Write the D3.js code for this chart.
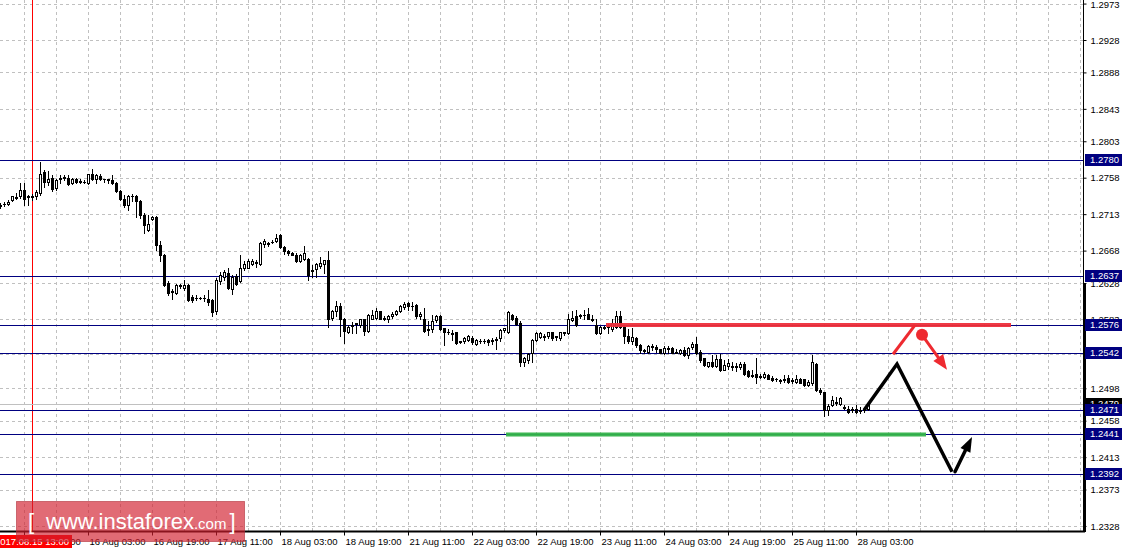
<!DOCTYPE html>
<html><head><meta charset="utf-8">
<script src="https://cdn.jsdelivr.net/npm/d3@7/dist/d3.min.js"></script>
<style>html,body{margin:0;padding:0;background:#fff;overflow:hidden}svg{display:block}</style>
</head><body><svg id="c" width="1124" height="552"></svg>
<script>
// ---- data (GBPUSD H1, bar index 0 = 15 Aug 05:00) ----
const opens = [1.2723,1.2726,1.2726,1.2730,1.2734,1.2735,1.2743,1.2734,1.2734,1.2735,1.2739,1.2765,1.2753,1.2758,1.2745,1.2757,1.2758,1.2758,1.2751,1.2757,1.2754,1.2753,1.2752,1.2763,1.2756,1.2760,1.2756,1.2756,1.2755,1.2752,1.2741,1.2732,1.2724,1.2735,1.2736,1.2729,1.2712,1.2693,1.2707,1.2709,1.2675,1.2663,1.2628,1.2617,1.2616,1.2624,1.2622,1.2626,1.2611,1.2609,1.2610,1.2609,1.2608,1.2607,1.2593,1.2630,1.2636,1.2640,1.2621,1.2637,1.2630,1.2646,1.2647,1.2652,1.2654,1.2651,1.2676,1.2677,1.2679,1.2680,1.2687,1.2672,1.2668,1.2665,1.2663,1.2655,1.2658,1.2658,1.2644,1.2645,1.2649,1.2651,1.2656,1.2585,1.2593,1.2599,1.2584,1.2568,1.2575,1.2577,1.2576,1.2583,1.2569,1.2584,1.2585,1.2593,1.2584,1.2583,1.2587,1.2590,1.2594,1.2598,1.2603,1.2600,1.2601,1.2587,1.2583,1.2570,1.2571,1.2582,1.2587,1.2572,1.2568,1.2566,1.2567,1.2556,1.2556,1.2558,1.2560,1.2553,1.2557,1.2556,1.2558,1.2557,1.2558,1.2560,1.2570,1.2568,1.2588,1.2585,1.2578,1.2531,1.2533,1.2541,1.2558,1.2561,1.2562,1.2563,1.2567,1.2561,1.2560,1.2567,1.2566,1.2582,1.2587,1.2588,1.2589,1.2590,1.2583,1.2576,1.2566,1.2574,1.2574,1.2571,1.2574,1.2587,1.2574,1.2563,1.2556,1.2560,1.2552,1.2545,1.2543,1.2550,1.2549,1.2546,1.2542,1.2548,1.2548,1.2543,1.2542,1.2545,1.2539,1.2549,1.2553,1.2543,1.2535,1.2526,1.2530,1.2525,1.2534,1.2521,1.2525,1.2525,1.2524,1.2524,1.2528,1.2519,1.2514,1.2516,1.2513,1.2512,1.2514,1.2511,1.2509,1.2508,1.2508,1.2511,1.2508,1.2506,1.2509,1.2509,1.2502,1.2504,1.2528,1.2496,1.2493,1.2471,1.2477,1.2481,1.2479,1.2475,1.2473,1.2471,1.2473,1.2471,1.2471,1.2473];
const highs = [1.2727,1.2728,1.2730,1.2736,1.2739,1.2751,1.2751,1.2737,1.2738,1.2743,1.2777,1.2768,1.2766,1.2761,1.2757,1.2761,1.2761,1.2761,1.2758,1.2758,1.2756,1.2755,1.2763,1.2769,1.2762,1.2763,1.2757,1.2757,1.2761,1.2753,1.2743,1.2737,1.2737,1.2738,1.2737,1.2730,1.2714,1.2712,1.2711,1.2711,1.2680,1.2664,1.2630,1.2621,1.2627,1.2627,1.2632,1.2627,1.2613,1.2613,1.2611,1.2613,1.2619,1.2608,1.2634,1.2642,1.2644,1.2646,1.2638,1.2639,1.2663,1.2655,1.2658,1.2658,1.2656,1.2678,1.2682,1.2679,1.2681,1.2689,1.2688,1.2674,1.2669,1.2666,1.2665,1.2664,1.2674,1.2659,1.2650,1.2653,1.2660,1.2657,1.2667,1.2595,1.2606,1.2603,1.2585,1.2576,1.2580,1.2579,1.2584,1.2584,1.2590,1.2595,1.2597,1.2594,1.2587,1.2589,1.2592,1.2595,1.2601,1.2605,1.2604,1.2605,1.2602,1.2592,1.2597,1.2581,1.2588,1.2588,1.2588,1.2573,1.2571,1.2570,1.2568,1.2557,1.2561,1.2564,1.2562,1.2559,1.2559,1.2559,1.2559,1.2560,1.2561,1.2571,1.2573,1.2594,1.2590,1.2587,1.2581,1.2537,1.2542,1.2559,1.2568,1.2568,1.2565,1.2568,1.2568,1.2563,1.2568,1.2568,1.2590,1.2593,1.2595,1.2590,1.2595,1.2597,1.2588,1.2583,1.2575,1.2575,1.2577,1.2584,1.2594,1.2593,1.2575,1.2571,1.2572,1.2561,1.2553,1.2547,1.2551,1.2553,1.2551,1.2547,1.2550,1.2550,1.2549,1.2546,1.2547,1.2549,1.2549,1.2555,1.2561,1.2545,1.2536,1.2531,1.2539,1.2539,1.2540,1.2533,1.2534,1.2530,1.2529,1.2530,1.2530,1.2520,1.2521,1.2535,1.2516,1.2518,1.2516,1.2513,1.2511,1.2510,1.2515,1.2515,1.2511,1.2515,1.2511,1.2510,1.2508,1.2539,1.2529,1.2498,1.2494,1.2479,1.2488,1.2487,1.2487,1.2477,1.2476,1.2475,1.2477,1.2475,1.2475,1.2480];
const lows = [1.2721,1.2723,1.2724,1.2729,1.2732,1.2733,1.2724,1.2724,1.2731,1.2732,1.2737,1.2746,1.2749,1.2742,1.2743,1.2751,1.2755,1.2749,1.2750,1.2752,1.2751,1.2751,1.2750,1.2755,1.2752,1.2755,1.2753,1.2751,1.2750,1.2740,1.2730,1.2722,1.2718,1.2729,1.2709,1.2708,1.2690,1.2692,1.2706,1.2669,1.2655,1.2624,1.2613,1.2608,1.2614,1.2622,1.2619,1.2606,1.2605,1.2607,1.2608,1.2606,1.2601,1.2587,1.2590,1.2627,1.2632,1.2621,1.2615,1.2626,1.2629,1.2644,1.2646,1.2650,1.2648,1.2650,1.2673,1.2674,1.2677,1.2679,1.2671,1.2664,1.2663,1.2662,1.2654,1.2654,1.2656,1.2632,1.2636,1.2636,1.2647,1.2640,1.2574,1.2582,1.2587,1.2562,1.2554,1.2566,1.2566,1.2566,1.2574,1.2564,1.2568,1.2583,1.2584,1.2583,1.2582,1.2580,1.2585,1.2588,1.2592,1.2596,1.2595,1.2595,1.2585,1.2584,1.2568,1.2564,1.2568,1.2580,1.2570,1.2551,1.2565,1.2558,1.2553,1.2554,1.2554,1.2556,1.2553,1.2551,1.2554,1.2554,1.2551,1.2553,1.2547,1.2556,1.2568,1.2566,1.2582,1.2576,1.2525,1.2526,1.2529,1.2531,1.2557,1.2560,1.2558,1.2560,1.2558,1.2558,1.2558,1.2564,1.2565,1.2581,1.2575,1.2585,1.2584,1.2583,1.2581,1.2565,1.2565,1.2571,1.2566,1.2569,1.2572,1.2573,1.2554,1.2554,1.2553,1.2549,1.2542,1.2541,1.2542,1.2545,1.2543,1.2541,1.2540,1.2542,1.2541,1.2541,1.2540,1.2538,1.2536,1.2547,1.2540,1.2531,1.2525,1.2524,1.2524,1.2524,1.2519,1.2520,1.2522,1.2520,1.2519,1.2522,1.2514,1.2512,1.2512,1.2505,1.2511,1.2511,1.2509,1.2507,1.2507,1.2505,1.2506,1.2505,1.2505,1.2505,1.2504,1.2501,1.2501,1.2502,1.2495,1.2491,1.2464,1.2465,1.2476,1.2477,1.2477,1.2472,1.2467,1.2469,1.2467,1.2467,1.2469,1.2471];
const closes = [1.2724,1.2726,1.2728,1.2735,1.2733,1.2743,1.2732,1.2735,1.2735,1.2740,1.2763,1.2753,1.2756,1.2744,1.2755,1.2758,1.2759,1.2750,1.2756,1.2753,1.2753,1.2753,1.2762,1.2756,1.2761,1.2756,1.2756,1.2755,1.2752,1.2741,1.2732,1.2724,1.2735,1.2736,1.2729,1.2712,1.2700,1.2701,1.2709,1.2675,1.2663,1.2626,1.2616,1.2618,1.2626,1.2625,1.2626,1.2607,1.2607,1.2610,1.2609,1.2610,1.2604,1.2592,1.2632,1.2638,1.2641,1.2622,1.2636,1.2627,1.2647,1.2651,1.2655,1.2655,1.2653,1.2677,1.2680,1.2676,1.2679,1.2684,1.2672,1.2667,1.2665,1.2663,1.2655,1.2663,1.2665,1.2638,1.2643,1.2651,1.2653,1.2656,1.2584,1.2593,1.2599,1.2584,1.2569,1.2574,1.2576,1.2578,1.2583,1.2569,1.2588,1.2588,1.2593,1.2584,1.2585,1.2587,1.2590,1.2594,1.2599,1.2602,1.2599,1.2599,1.2587,1.2590,1.2569,1.2571,1.2581,1.2587,1.2571,1.2567,1.2567,1.2565,1.2554,1.2555,1.2560,1.2562,1.2555,1.2558,1.2556,1.2557,1.2555,1.2558,1.2559,1.2570,1.2572,1.2592,1.2584,1.2577,1.2531,1.2535,1.2540,1.2558,1.2566,1.2566,1.2561,1.2567,1.2560,1.2562,1.2567,1.2566,1.2583,1.2585,1.2576,1.2587,1.2588,1.2584,1.2582,1.2566,1.2574,1.2573,1.2575,1.2579,1.2587,1.2574,1.2563,1.2557,1.2561,1.2551,1.2545,1.2544,1.2550,1.2549,1.2546,1.2542,1.2548,1.2547,1.2542,1.2542,1.2545,1.2539,1.2548,1.2553,1.2542,1.2533,1.2527,1.2530,1.2525,1.2534,1.2520,1.2527,1.2529,1.2524,1.2525,1.2528,1.2516,1.2513,1.2513,1.2512,1.2512,1.2516,1.2510,1.2508,1.2510,1.2507,1.2510,1.2506,1.2507,1.2509,1.2505,1.2502,1.2506,1.2530,1.2496,1.2493,1.2471,1.2476,1.2483,1.2480,1.2486,1.2474,1.2469,1.2472,1.2469,1.2470,1.2473,1.2479];

const priceTicks = [1.2973,1.2928,1.2888,1.2843,1.2803,1.2758,1.2713,1.2668,1.2628,1.2583,1.2540,1.2498,1.2458,1.2413,1.2373,1.2328];
const timeTickBars = [6,22,38,54,70,86,102,118,134,150,166,182,198,214];
const timeTickLabels = ["15 Aug 11:00","16 Aug 03:00","16 Aug 19:00","17 Aug 11:00","18 Aug 03:00","18 Aug 19:00","21 Aug 11:00","22 Aug 03:00","22 Aug 19:00","23 Aug 11:00","24 Aug 03:00","24 Aug 19:00","25 Aug 11:00","28 Aug 03:00"];
const levels = [1.2780,1.2637,1.2576,1.2542,1.2471,1.2441,1.2392];
const bidPrice = 1.2479;
const markerBar = 8, markerLabel = "2017.08.15 13:00";
const resistance = [151.5, 252.75, 1.2576];
const support = [126.5, 231.5, 1.2441];
const blackWave = [[216,1.2471],[224.25,1.2528],[238,1.2395]];
const blackArrow = [[238.75,1.2395],[243,1.2438]];
const redWave = [[223.25,1.2540],[228.75,1.2576]];
const redArrow = [[230.5,1.2564],[236.75,1.2521]];

// ---- scales ----
const W = 1083, H = 531;
const x = d3.scaleLinear().domain([0, 270.75]).range([0, W]);
const y = d3.scaleLinear().domain([1.23218, 1.29774]).range([H, 0]);
const svg = d3.select('#c');
const FONT = '"Liberation Sans", Arial, sans-serif';

// grid
const g = svg.append('g');
g.selectAll('line.hg').data(priceTicks).join('line')
  .attr('x1', 0).attr('x2', W).attr('y1', d => Math.round(y(d)) + 0.5).attr('y2', d => Math.round(y(d)) + 0.5)
  .attr('stroke', '#c0c0c0').attr('stroke-dasharray', '3,3');
g.selectAll('line.vg').data(d3.range(6, 271, 8)).join('line')
  .attr('y1', 0).attr('y2', H).attr('x1', d => Math.round(x(d)) + 0.5).attr('x2', d => Math.round(x(d)) + 0.5)
  .attr('stroke', '#c0c0c0').attr('stroke-dasharray', '3,3');

// marker vertical line
svg.append('line').attr('x1', Math.round(x(markerBar)) + 0.5).attr('x2', Math.round(x(markerBar)) + 0.5)
  .attr('y1', 0).attr('y2', H).attr('stroke', '#ff0000');

// bid line
svg.append('line').attr('x1', 0).attr('x2', W).attr('y1', Math.round(y(bidPrice)) + 0.5).attr('y2', Math.round(y(bidPrice)) + 0.5)
  .attr('stroke', '#c0c0c0');

// level lines
svg.selectAll('line.lvl').data(levels).join('line')
  .attr('x1', 0).attr('x2', W).attr('y1', d => Math.round(y(d)) + 0.5).attr('y2', d => Math.round(y(d)) + 0.5)
  .attr('stroke', '#000080');

// candles
const bars = opens.map((o, i) => ({i, o, h: highs[i], l: lows[i], c: closes[i]}));
const cg = svg.append('g');
bars.forEach(b => {
  const cx = Math.round(x(b.i));
  const yh = Math.round(y(b.h)), yl = Math.round(y(b.l));
  const yt = Math.round(y(Math.max(b.o, b.c))), yb = Math.round(y(Math.min(b.o, b.c)));
  cg.append('line').attr('x1', cx + 0.5).attr('x2', cx + 0.5).attr('y1', yh).attr('y2', yl + 1).attr('stroke', '#000');
  if (yb - yt < 1) {
    cg.append('rect').attr('x', cx - 1).attr('y', yt).attr('width', 3).attr('height', 1).attr('fill', '#000');
  } else if (b.c < b.o) {
    cg.append('rect').attr('x', cx - 1).attr('y', yt).attr('width', 3).attr('height', yb - yt + 1).attr('fill', '#000');
  } else {
    cg.append('rect').attr('x', cx - 0.5).attr('y', yt + 0.5).attr('width', 2).attr('height', yb - yt)
      .attr('fill', '#fff').attr('stroke', '#000');
  }
});

// support / resistance thick lines
svg.append('line').attr('x1', x(resistance[0])).attr('x2', x(resistance[1]))
  .attr('y1', y(resistance[2])).attr('y2', y(resistance[2])).attr('stroke', '#ee2f3a').attr('stroke-width', 4).attr('opacity', 0.95);
svg.append('line').attr('x1', x(support[0])).attr('x2', x(support[1]))
  .attr('y1', y(support[2])).attr('y2', y(support[2])).attr('stroke', '#34b44a').attr('stroke-width', 4).attr('opacity', 0.95);

const line = d3.line().x(d => x(d[0])).y(d => y(d[1]));
function arrow(pts, color, width, headLen, headW) {
  const p0 = [x(pts[0][0]), y(pts[0][1])], p1 = [x(pts[1][0]), y(pts[1][1])];
  const dx = p1[0] - p0[0], dy = p1[1] - p0[1], L = Math.hypot(dx, dy);
  const ux = dx / L, uy = dy / L;
  const bx = p1[0] - ux * headLen, by = p1[1] - uy * headLen;
  svg.append('line').attr('x1', p0[0]).attr('y1', p0[1]).attr('x2', bx + ux * 2).attr('y2', by + uy * 2)
    .attr('stroke', color).attr('stroke-width', width).attr('stroke-linecap', 'round');
  svg.append('path').attr('d', `M${p1[0]},${p1[1]}L${bx - uy * headW / 2},${by + ux * headW / 2}L${bx + uy * headW / 2},${by - ux * headW / 2}Z`)
    .attr('fill', color);
}
svg.append('path').attr('d', line(blackWave)).attr('fill', 'none').attr('stroke', '#000').attr('stroke-width', 3.5)
  .attr('stroke-linejoin', 'miter');
arrow(blackArrow, '#000', 3.5, 15, 11);
svg.append('path').attr('d', line(redWave)).attr('fill', 'none').attr('stroke', '#ee2a30').attr('stroke-width', 3);
arrow(redArrow, '#ee2a30', 3, 15, 12);
svg.append('circle').attr('cx', x(redArrow[0][0])).attr('cy', y(redArrow[0][1])).attr('r', 6).attr('fill', '#ee2a30');

// ---- axes ----
svg.append('rect').attr('x', W + 1).attr('y', 0).attr('width', 1124 - W).attr('height', 552).attr('fill', '#fff');
svg.append('rect').attr('x', 0).attr('y', H + 1).attr('width', 1124).attr('height', 552 - H).attr('fill', '#fff');

const yAxis = d3.axisRight(y).tickValues(priceTicks.filter(d => d !== 1.2540)).tickSize(3).tickPadding(4).tickFormat(d => d.toFixed(4));
const ya = svg.append('g').attr('transform', `translate(${W + 0.5},0)`).call(yAxis);
ya.select('.domain').remove();
ya.selectAll('.tick line').attr('stroke', '#000');
ya.selectAll('.tick text').attr('font-family', FONT).attr('font-size', 9.5).attr('fill', '#000')
  .attr('y', 0).attr('dy', '0.34em');
ya.selectAll('.tick').filter(d => y(d) < 5).select('text').attr('transform', 'translate(0,1)');

const xAxis = d3.axisBottom(x).tickValues(timeTickBars).tickSize(4).tickPadding(3)
  .tickFormat((d, k) => timeTickLabels[k]);
const xa = svg.append('g').attr('transform', `translate(0,${H + 0.5})`).call(xAxis);
xa.select('.domain').remove();
xa.selectAll('.tick line').attr('stroke', '#000');
xa.selectAll('.tick text').attr('font-family', FONT).attr('font-size', 9.5).attr('fill', '#000')
  .attr('text-anchor', 'start').attr('x', 1);

// axis frame lines
svg.append('line').attr('x1', 0).attr('x2', W + 2).attr('y1', H + 0.5).attr('y2', H + 0.5).attr('stroke', '#000').attr('stroke-width', 2);
svg.append('line').attr('x1', W + 0.5).attr('x2', W + 0.5).attr('y1', 0).attr('y2', H + 1).attr('stroke', '#000');
svg.append('line').attr('x1', W + 1.5).attr('x2', W + 1.5).attr('y1', y(1.2628)).attr('y2', H + 1).attr('stroke', '#000').attr('stroke-width', 3);

// bid label (mostly hidden) and level labels
function priceTag(p, bg) {
  const cy = Math.round(y(p));
  svg.append('rect').attr('x', W + 2).attr('y', cy - 6).attr('width', 37).attr('height', 12).attr('fill', bg);
  svg.append('text').attr('x', W + 7).attr('y', cy).attr('dy', '0.34em').attr('font-family', FONT).attr('font-size', 9.5)
    .attr('fill', '#fff').text(p.toFixed(4));
}
priceTag(bidPrice, '#000');
levels.forEach(p => priceTag(p, '#000080'));

// marker date label
const mx = x(markerBar);
svg.append('rect').attr('x', mx - 40).attr('y', H + 4).attr('width', 80).attr('height', 13).attr('fill', '#ff0000');
svg.append('text').attr('x', mx).attr('y', H + 10.5).attr('dy', '0.34em').attr('text-anchor', 'middle')
  .attr('font-family', FONT).attr('font-size', 9.5).attr('fill', '#fff').text(markerLabel);

// watermark
const wm = svg.append('g');
wm.append('rect').attr('x', 16.5).attr('y', 501.5).attr('width', 228).attr('height', 40)
  .attr('fill', '#d21e2d').attr('fill-opacity', 0.66).attr('stroke', '#b0303a').attr('stroke-opacity', 0.6);
const wt = wm.append('text').attr('y', 529).attr('font-family', FONT).attr('fill', '#fff');
wt.append('tspan').attr('x', 28).attr('font-size', 22).text('[');
wt.append('tspan').attr('x', 46).attr('font-size', 22).text('www.instaforex');
wt.append('tspan').attr('font-size', 15).text('.com');
wt.append('tspan').attr('dx', 3).attr('font-size', 22).text(']');
</script></body></html>
